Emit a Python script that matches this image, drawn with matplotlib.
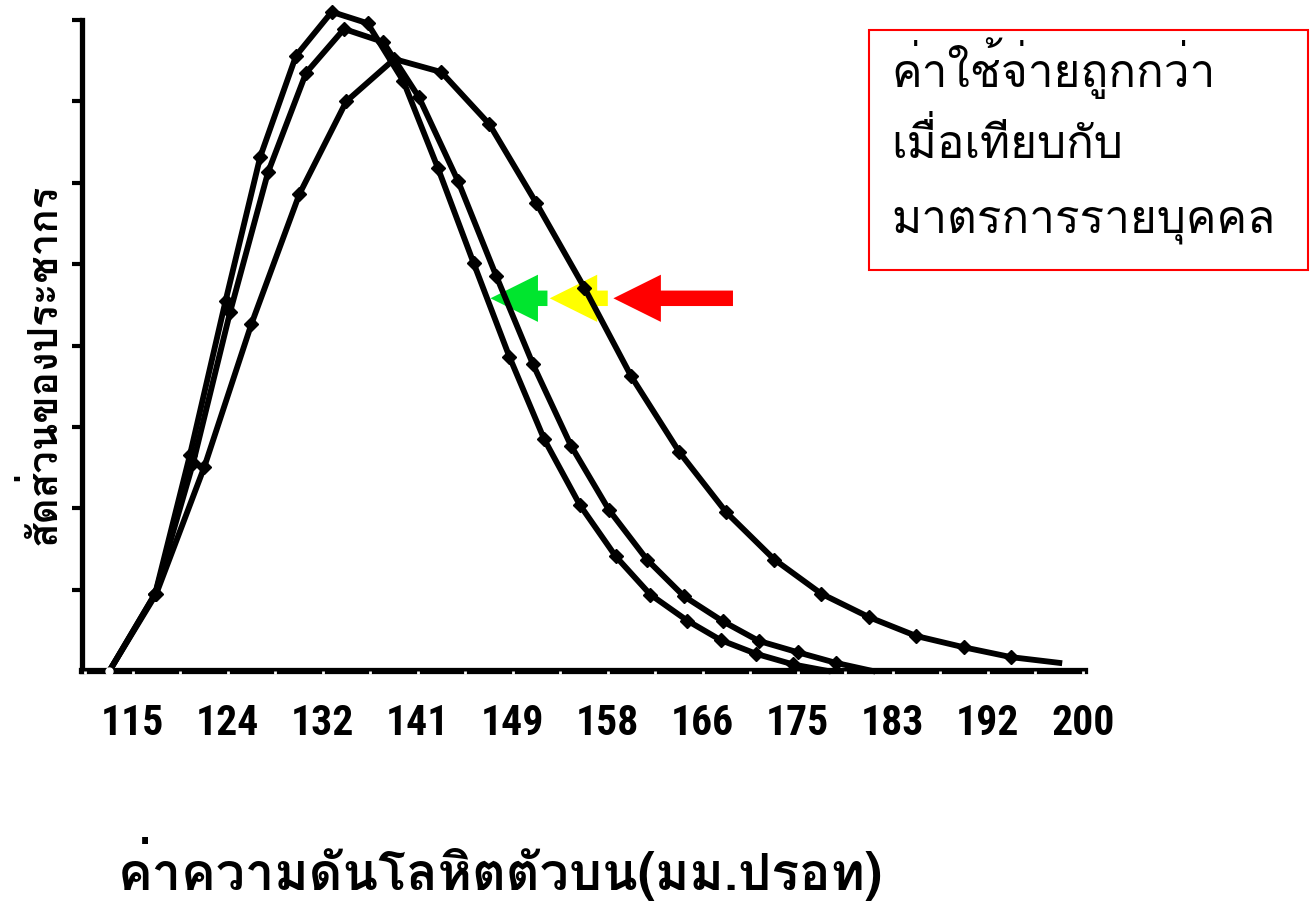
import numpy as np
import matplotlib
matplotlib.use("Agg")
import matplotlib.pyplot as plt
from matplotlib import font_manager
from matplotlib.patches import Rectangle

# systolic pressure (mmHg) vs share of population, three distributions
x_wide = [112.9, 117.1, 121.4, 125.6, 129.9, 134.1, 138.4, 142.6, 146.9, 151.1, 155.4,
          159.6, 163.9, 168.1, 172.4, 176.6, 180.9, 185.1, 189.4, 193.6, 197.9]
y_wide = [0.0, 0.95, 2.51, 4.26, 5.86, 7.00, 7.52, 7.36, 6.72, 5.75, 4.71,
          3.62, 2.69, 1.95, 1.37, 0.95, 0.66, 0.43, 0.29, 0.17, 0.10]

x_mid = [112.9, 117.0, 120.4, 123.7, 127.1, 130.5, 133.9, 137.4, 140.6, 144.1, 147.5,
         150.8, 154.2, 157.6, 161.0, 164.3, 167.8, 171.0, 174.5, 177.9, 181.2]
y_mid = [0.0, 0.95, 2.56, 4.41, 6.13, 7.35, 7.89, 7.73, 7.05, 6.02, 4.86,
         3.77, 2.77, 1.98, 1.37, 0.92, 0.61, 0.37, 0.23, 0.10, 0.0]

x_low = [112.9, 117.0, 120.1, 123.3, 126.4, 129.6, 132.8, 136.0, 139.2, 142.3, 145.5,
         148.7, 151.8, 155.0, 158.2, 161.3, 164.6, 167.6, 170.8, 174.1, 177.2]
y_low = [0.0, 0.95, 2.65, 4.55, 6.32, 7.56, 8.10, 7.96, 7.25, 6.18, 5.01,
         3.86, 2.85, 2.04, 1.41, 0.94, 0.62, 0.38, 0.21, 0.08, 0.0]

tick_pos = [115, 123.5, 132, 140.5, 149, 157.5, 166, 174.5, 183, 191.5, 200]
tick_labels = ["115", "124", "132", "141", "149", "158", "166", "175", "183", "192", "200"]

# arrows: (tip x, tail x, colour), all at the same height
arrows = [(147.0, 152.1, "#00E52E"), (152.3, 157.5, "#FFFF00"), (158.0, 168.7, "#FF0000")]
arrow_y = 4.58

box_lines = ["ค่าใช้จ่ายถูกกว่า", "เมื่อเทียบกับ", "มาตรการรายบุคคล"]
xlabel = "ค่าความดันโลหิตตัวบน(มม.ปรอท)"
ylabel = "สัดส่วนของประชากร"


def first_bold(families):
    have = {(f.name, f.weight) for f in font_manager.fontManager.ttflist}
    for fam in families:
        if any(n == fam and (w == "bold" or (isinstance(w, int) and w >= 700))
               for n, w in have):
            return fam
    return "DejaVu Sans"


THAI = ["Loma", "Noto Sans Thai Looped", "DejaVu Sans"]
NUM = first_bold(["Liberation Sans Narrow", "Roboto Condensed", "PT Sans Narrow",
                  "Archivo Narrow", "Fira Sans Condensed", "Asap Condensed",
                  "IBM Plex Sans Condensed", "Barlow Condensed", "Liberation Sans"])

fig = plt.figure(figsize=(13.12, 9.02), dpi=100)
ax = fig.add_axes([82 / 1312, 1 - 671 / 902, (1085 - 82) / 1312, (671 - 20) / 902])

for xs, ys in [(x_low, y_low), (x_mid, y_mid), (x_wide, y_wide)]:
    ax.plot(xs, ys, color="black", lw=4.2, marker="D", ms=7, markevery=slice(1, -1),
            clip_on=False, zorder=3, solid_joinstyle="round")
ax.plot([x_wide[0]], [0], "o", color="white", ms=5, zorder=5, clip_on=False)

for tip, tail, col in arrows:
    ax.arrow(tail, arrow_y, tip - tail, 0, width=0.19, head_width=0.58, head_length=4.25,
             length_includes_head=True, color=col, lw=0, zorder=2)

ax.set_xlim(110.45, 200.2)
ax.set_ylim(0, 8)
for s in ["top", "right"]:
    ax.spines[s].set_visible(False)
ax.spines["left"].set_linewidth(3.8)
ax.spines["bottom"].set_linewidth(4.5)

ax.set_yticks(range(1, 9))
ax.set_yticklabels([])
ax.tick_params(axis="y", direction="out", length=7, width=3, color="black")

ax.set_xticks(tick_pos)
ax.set_xticklabels(tick_labels, fontfamily=NUM, fontweight="bold", fontsize=30)
ax.set_xticks(np.arange(110.75, 200.1, 4.25), minor=True)
ax.tick_params(axis="x", which="both", direction="out", length=2.2, width=2,
               color="white", pad=21)
ax.xaxis.set_zorder(4)

fig.text(118 / 1312, 1 - 869 / 902, xlabel, fontfamily=THAI, fontweight="bold",
         fontsize=37.5, ha="left", va="center")
fig.text(42 / 1312, 1 - 364 / 902, ylabel, fontfamily=THAI, fontweight="bold",
         fontsize=29, rotation=90, ha="center", va="center")

fig.patches.append(Rectangle((869 / 1312, 1 - 270 / 902), (1308 - 869) / 1312, 240 / 902,
                             transform=fig.transFigure, fill=False, edgecolor="red", lw=1.5))
for line, base in zip(box_lines, [87, 158, 233]):
    fig.text(891 / 1312, 1 - base / 902, line, fontfamily=THAI, fontsize=33,
             ha="left", va="baseline")

fig.savefig("out.png", dpi=100)
